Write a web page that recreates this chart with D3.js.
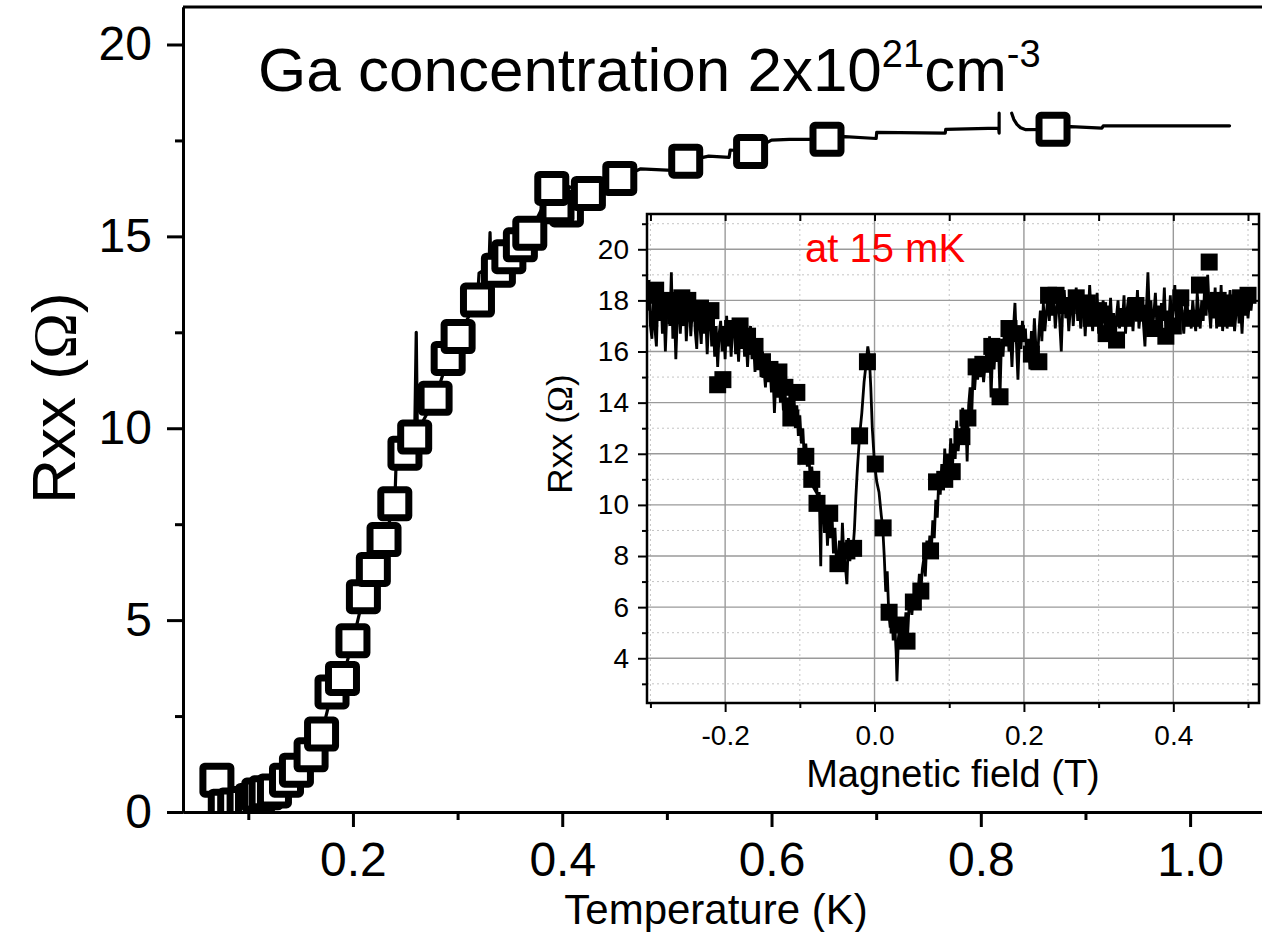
<!DOCTYPE html>
<html>
<head>
<meta charset="utf-8">
<script src="https://cdn.jsdelivr.net/npm/d3@7"></script>
<style>
  body { margin: 0; background: #fff; }
  text { font-family: "Liberation Sans", Arial, sans-serif; fill: #000; }
</style>
</head>
<body>
<svg id="chart" width="1262" height="932"></svg>
<script>
// ---------- Main panel: Rxx vs temperature ----------
// open-square markers (T in K, Rxx in ohm)
const tempMarkers = [
  [0.070,0.83],[0.078,0.15],[0.087,0.18],[0.096,0.22],[0.104,0.30],[0.110,0.44],
  [0.117,0.50],[0.125,0.55],[0.1365,0.83],[0.146,1.09],[0.160,1.49],[0.170,2.03],
  [0.180,3.13],[0.190,3.48],[0.200,4.46],[0.210,5.61],[0.2195,6.32],[0.2297,7.10],
  [0.240,8.03],[0.2497,9.35],[0.259,9.77],[0.2785,10.78],[0.291,11.82],[0.3005,12.39],
  [0.319,13.34],[0.339,14.12],[0.349,14.47],[0.360,14.78],[0.369,15.08],[0.404,15.69],
  [0.395,15.77],[0.390,16.25],[0.425,16.12],[0.455,16.51],[0.518,16.96],[0.580,17.21],
  [0.653,17.53],[0.869,17.79]
];
// continuous trace (null marks a gap in the record)
const tempTrace = [
  [0.070,0.83],[0.078,0.15],[0.087,0.18],[0.096,0.22],[0.104,0.30],[0.110,0.44],
  [0.117,0.50],[0.125,0.55],[0.1365,0.83],[0.146,1.09],[0.160,1.49],[0.170,2.03],
  [0.180,3.13],[0.190,3.48],[0.200,4.46],[0.210,5.61],[0.2195,6.32],[0.2297,7.10],
  [0.240,8.03],[0.241,8.9],[0.2497,9.35],[0.259,9.77],[0.2605,12.5],[0.2615,9.9],
  [0.2785,10.78],[0.291,11.82],[0.3005,12.39],[0.319,13.34],[0.3205,14.04],[0.330,14.2],
  [0.331,15.1],[0.332,14.1],[0.339,14.12],[0.349,14.47],[0.360,14.78],[0.369,15.08],
  [0.390,16.25],[0.395,15.77],[0.404,15.69],[0.406,16.3],[0.425,16.12],[0.455,16.51],
  [0.475,16.76],[0.505,16.72],[0.518,16.96],[0.540,17.09],[0.5595,17.06],[0.5605,17.25],
  [0.580,17.21],[0.600,17.51],[0.617,17.53],[0.653,17.53],[0.670,17.60],[0.700,17.55],
  [0.7005,17.71],[0.766,17.69],[0.7665,17.79],[0.817,17.82],[0.8175,17.69],[0.8175,18.21],
  [0.823,null],
  [0.8295,18.21],[0.8315,18.05],[0.8345,17.92],[0.838,17.83],[0.843,17.78],[0.869,17.79],
  [0.886,17.86],[0.9157,17.82],[0.917,17.88],[1.0377,17.88]
];
const tempMajorTicks = [0.2, 0.4, 0.6, 0.8, 1.0];
const tempMinorTicks = [0.1, 0.3, 0.5, 0.7, 0.9];
const rMajorTicks = [0, 5, 10, 15, 20];
const rMinorTicks = [2.5, 7.5, 12.5, 17.5];

// ---------- Inset: Rxx vs magnetic field at 15 mK ----------
const fieldTrace = [
  [-0.304,17.6],[-0.302,18.8],[-0.300,17.0],[-0.298,16.5],[-0.296,18.4],[-0.294,16.9],
  [-0.292,16.2],[-0.290,18.2],[-0.288,17.2],[-0.286,18.5],[-0.284,16.7],[-0.282,17.9],
  [-0.280,16.0],[-0.278,17.6],[-0.276,18.2],[-0.274,17.0],[-0.272,19.1],[-0.270,16.5],
  [-0.268,17.7],[-0.266,15.7],[-0.264,17.4],[-0.262,18.2],[-0.260,16.7],[-0.258,17.9],
  [-0.256,17.0],[-0.254,18.3],[-0.252,16.4],[-0.250,17.5],[-0.248,18.1],[-0.246,16.6],
  [-0.244,17.6],[-0.242,18.2],[-0.240,16.8],[-0.238,16.1],[-0.236,17.8],[-0.234,17.1],
  [-0.232,16.3],[-0.230,18.0],[-0.228,16.7],[-0.226,17.4],[-0.224,15.9],[-0.222,17.2],
  [-0.220,17.8],[-0.218,16.2],[-0.216,17.3],[-0.214,15.8],[-0.212,17.0],[-0.210,15.4],
  [-0.208,16.7],[-0.206,17.2],[-0.204,16.0],[-0.202,17.0],[-0.200,15.7],[-0.198,17.4],
  [-0.196,16.2],[-0.194,17.1],[-0.192,15.8],[-0.190,16.9],[-0.188,17.3],[-0.186,15.9],
  [-0.184,16.8],[-0.182,15.6],[-0.180,17.0],[-0.178,16.1],[-0.176,17.2],[-0.174,15.8],
  [-0.172,16.6],[-0.170,15.4],[-0.168,16.5],[-0.166,17.0],[-0.164,15.7],[-0.162,16.4],
  [-0.160,15.2],[-0.158,16.2],[-0.156,15.5],[-0.154,16.5],[-0.152,15.0],[-0.150,16.0],
  [-0.148,15.3],[-0.146,14.6],[-0.144,15.7],[-0.142,14.8],[-0.140,15.5],[-0.138,14.4],
  [-0.136,15.2],[-0.134,13.6],[-0.132,15.0],[-0.130,14.2],[-0.128,15.1],[-0.126,14.0],
  [-0.124,14.8],[-0.122,13.7],[-0.120,14.6],[-0.118,13.4],[-0.116,14.2],[-0.114,13.1],
  [-0.112,14.1],[-0.110,13.3],[-0.108,14.4],[-0.106,13.0],[-0.104,13.9],[-0.102,12.7],
  [-0.100,13.5],[-0.098,12.4],[-0.096,13.0],[-0.094,11.8],[-0.092,12.4],[-0.090,11.5],
  [-0.088,12.0],[-0.086,11.0],[-0.084,11.5],[-0.082,10.7],[-0.080,10.6],[-0.078,11.1],
  [-0.076,9.9],[-0.074,10.5],[-0.072,7.6],[-0.071,10.0],[-0.069,10.3],[-0.067,8.9],
  [-0.065,9.9],[-0.063,8.4],[-0.061,9.6],[-0.059,8.7],[-0.057,9.7],[-0.055,8.1],
  [-0.053,9.1],[-0.051,7.8],[-0.049,7.7],[-0.047,8.6],[-0.045,7.4],[-0.043,9.3],
  [-0.041,8.0],[-0.039,7.6],[-0.037,6.9],[-0.035,8.7],[-0.033,7.8],[-0.031,8.5],
  [-0.029,8.2],[-0.027,9.0],[-0.025,10.3],[-0.023,11.4],[-0.020,12.7],[-0.017,13.6],
  [-0.014,14.8],[-0.011,15.6],[-0.009,16.2],[-0.007,15.8],[-0.005,14.6],[-0.003,13.0],
  [0.000,11.6],[0.003,10.9],[0.006,10.5],[0.009,9.6],[0.011,9.1],[0.013,8.0],
  [0.015,6.6],[0.017,7.4],[0.019,5.8],[0.021,5.2],[0.023,6.0],[0.025,4.7],
  [0.027,5.4],[0.029,4.2],[0.030,3.1],[0.032,4.8],[0.034,5.3],[0.036,4.5],
  [0.038,5.6],[0.040,4.9],[0.042,5.8],[0.044,4.7],[0.046,5.9],[0.048,6.3],
  [0.050,5.7],[0.052,6.4],[0.054,6.0],[0.056,6.8],[0.058,6.4],[0.060,7.3],
  [0.062,6.6],[0.064,7.5],[0.066,7.9],[0.068,7.2],[0.070,8.6],[0.072,7.9],
  [0.074,8.8],[0.076,8.2],[0.078,9.4],[0.080,8.7],[0.082,10.2],[0.084,9.5],
  [0.086,11.0],[0.088,10.4],[0.090,11.6],[0.092,10.7],[0.094,12.2],[0.096,11.1],
  [0.098,12.0],[0.100,11.4],[0.102,12.6],[0.104,11.3],[0.106,12.4],[0.108,11.8],
  [0.110,13.3],[0.112,12.1],[0.114,12.9],[0.116,12.5],[0.118,13.8],[0.120,12.8],
  [0.122,13.5],[0.124,11.7],[0.126,13.9],[0.128,14.6],[0.130,13.4],[0.132,15.2],
  [0.134,14.5],[0.136,15.4],[0.138,14.9],[0.140,15.6],[0.142,15.0],[0.144,15.7],
  [0.146,14.8],[0.148,15.5],[0.150,15.9],[0.152,15.2],[0.154,16.6],[0.156,14.2],
  [0.158,16.0],[0.160,15.3],[0.162,16.3],[0.164,15.6],[0.166,16.1],[0.168,14.3],
  [0.170,16.5],[0.172,15.8],[0.174,16.9],[0.176,16.2],[0.178,17.0],[0.180,16.0],
  [0.182,16.7],[0.184,15.4],[0.186,16.9],[0.188,17.9],[0.190,16.3],[0.192,14.9],
  [0.194,16.6],[0.196,16.1],[0.198,17.2],[0.200,16.4],[0.202,16.9],[0.204,15.7],
  [0.206,16.5],[0.208,15.3],[0.210,16.8],[0.212,15.9],[0.214,17.3],[0.216,16.2],
  [0.218,15.5],[0.220,16.7],[0.222,17.6],[0.224,16.4],[0.226,17.9],[0.228,16.8],
  [0.230,17.5],[0.232,18.1],[0.234,17.2],[0.236,18.3],[0.238,17.4],[0.240,18.0],
  [0.242,16.9],[0.244,17.7],[0.246,18.2],[0.248,17.1],[0.250,16.0],[0.252,17.8],
  [0.254,18.4],[0.256,17.3],[0.258,18.0],[0.260,16.8],[0.262,17.6],[0.264,18.3],
  [0.266,17.0],[0.268,17.9],[0.270,18.5],[0.272,17.2],[0.274,18.1],[0.276,16.9],
  [0.278,17.6],[0.280,18.2],[0.282,16.6],[0.284,17.8],[0.286,17.3],[0.288,18.6],
  [0.290,17.5],[0.292,16.8],[0.294,17.9],[0.296,17.1],[0.298,18.3],[0.300,16.7],
  [0.302,17.7],[0.304,16.9],[0.306,18.0],[0.308,17.2],[0.310,16.5],[0.312,17.8],
  [0.314,17.0],[0.316,18.1],[0.318,16.8],[0.320,17.5],[0.322,16.3],[0.324,17.4],
  [0.326,18.0],[0.328,16.9],[0.330,17.7],[0.332,17.2],[0.334,18.2],[0.336,16.7],
  [0.338,17.6],[0.340,18.1],[0.342,17.0],[0.344,17.8],[0.346,16.8],[0.348,17.9],
  [0.350,17.3],[0.352,18.4],[0.354,16.9],[0.356,17.6],[0.358,18.0],[0.360,17.1],
  [0.362,16.2],[0.364,17.7],[0.366,19.1],[0.368,17.4],[0.370,18.0],[0.372,16.8],
  [0.374,17.5],[0.376,18.3],[0.378,17.0],[0.380,17.8],[0.382,16.6],[0.384,17.9],
  [0.386,17.2],[0.388,18.5],[0.390,16.7],[0.392,17.6],[0.394,17.1],[0.396,18.2],
  [0.398,16.9],[0.400,17.7],[0.402,18.6],[0.404,17.3],[0.406,17.9],[0.408,16.8],
  [0.410,18.1],[0.412,17.4],[0.414,16.7],[0.416,17.8],[0.418,18.4],[0.420,17.0],
  [0.422,17.6],[0.424,16.9],[0.426,18.0],[0.428,17.3],[0.430,16.8],[0.432,18.3],
  [0.434,17.5],[0.436,16.9],[0.438,18.0],[0.440,17.2],[0.442,18.6],[0.444,17.4],
  [0.446,19.0],[0.448,17.7],[0.450,16.9],[0.452,18.1],[0.454,17.3],[0.456,18.5],
  [0.458,16.9],[0.460,17.8],[0.462,17.1],[0.464,18.6],[0.466,16.8],[0.468,17.7],
  [0.470,18.2],[0.472,16.9],[0.474,17.6],[0.476,18.4],[0.478,17.0],[0.480,17.9],
  [0.482,16.8],[0.484,17.5],[0.486,18.3],[0.488,17.1],[0.490,17.8],[0.492,16.7],
  [0.494,18.0],[0.496,17.4],[0.498,18.1],[0.500,17.3],[0.502,18.0],[0.504,17.6],
  [0.506,18.2]
];
// filled-square markers on the field sweep
const fieldMarkers = [
  [-0.300,18.2],[-0.293,18.4],[-0.283,17.6],[-0.275,18.0],[-0.266,17.4],[-0.258,18.1],
  [-0.250,18.0],[-0.241,17.5],[-0.233,17.7],[-0.225,17.3],[-0.219,17.6],[-0.210,14.7],
  [-0.203,14.9],[-0.190,16.9],[-0.180,17.0],[-0.170,16.6],[-0.160,16.2],[-0.150,15.6],
  [-0.140,15.3],[-0.128,15.2],[-0.120,14.6],[-0.112,13.4],[-0.104,14.4],[-0.092,11.9],
  [-0.084,11.0],[-0.077,10.06],[-0.060,9.67],[-0.049,7.7],[-0.037,8.2],[-0.028,8.3],
  [-0.020,12.7],[-0.0095,15.6],[0.001,11.6],[0.0115,9.1],[0.0195,5.8],[0.0315,5.3],
  [0.0435,4.67],[0.052,6.2],[0.062,6.63],[0.075,8.2],[0.083,10.9],[0.094,11.0],
  [0.104,11.3],[0.117,12.67],[0.125,13.4],[0.136,15.4],[0.145,15.5],[0.157,16.2],
  [0.168,14.23],[0.180,16.9],[0.190,16.7],[0.210,15.9],[0.220,15.6],[0.233,18.2],
  [0.243,18.2],[0.258,17.8],[0.270,18.1],[0.285,17.9],[0.290,17.3],[0.300,17.6],
  [0.310,16.7],[0.324,16.45],[0.335,17.3],[0.350,17.8],[0.360,17.5],[0.375,16.9],
  [0.390,16.6],[0.400,17.0],[0.410,18.1],[0.425,17.3],[0.435,18.6],[0.448,19.5],
  [0.460,18.0],[0.470,17.3],[0.480,17.9],[0.490,18.1],[0.500,18.2]
];
const fieldMajorTicks = [-0.2, 0.0, 0.2, 0.4];
const fieldMinorTicks = [-0.3, -0.1, 0.1, 0.3, 0.5];
const insetRMajorTicks = [4, 6, 8, 10, 12, 14, 16, 18, 20];
const insetRMinorTicks = [3, 5, 7, 9, 11, 13, 15, 17, 19, 21];

const svg = d3.select("#chart");
svg.append("rect").attr("width", 1262).attr("height", 932).attr("fill", "#fff");

// tick text with a plain hyphen for negatives
const oneDecimal = d => d3.format(".1f")(d).replace("\u2212", "-");

// ---------- main panel ----------
const x = d3.scaleLinear().domain([0.0376, 1.0687]).range([183, 1262]);
const y = d3.scaleLinear().domain([0, 20.977]).range([812, 7]);

const defs = svg.append("defs");
defs.append("clipPath").attr("id", "mainClip")
  .append("rect").attr("x", 183).attr("y", 7).attr("width", 1262 - 183).attr("height", 812 - 7);

const main = svg.append("g");
const mainLine = d3.line()
  .defined(d => d[1] !== null)
  .x(d => x(d[0])).y(d => y(d[1]));

const plot = main.append("g").attr("clip-path", "url(#mainClip)");
plot.append("path").datum(tempTrace)
  .attr("d", mainLine)
  .attr("fill", "none").attr("stroke", "#000")
  .attr("stroke-width", 3.2).attr("stroke-linejoin", "round").attr("stroke-linecap", "round");

const sq = 28;
plot.selectAll("rect.open").data(tempMarkers).join("rect")
  .attr("class", "open")
  .attr("x", d => x(d[0]) - sq / 2).attr("y", d => y(d[1]) - sq / 2)
  .attr("width", sq).attr("height", sq).attr("rx", 2)
  .attr("fill", "#fff").attr("stroke", "#000").attr("stroke-width", 7);

// axes
function styleAxis(g, width) {
  g.selectAll("path.domain").attr("stroke", "#000").attr("stroke-width", width);
  g.selectAll(".tick line").attr("stroke", "#000").attr("stroke-width", width);
}
const xAxisG = main.append("g").attr("transform", "translate(0,812)")
  .call(d3.axisBottom(x).tickValues(tempMajorTicks).tickSize(15).tickSizeOuter(0)
    .tickPadding(15).tickFormat(oneDecimal));
styleAxis(xAxisG, 3);
xAxisG.selectAll("text").attr("font-size", 48);
const xMinorG = main.append("g").attr("transform", "translate(0,812)")
  .call(d3.axisBottom(x).tickValues(tempMinorTicks).tickSize(8).tickSizeOuter(0).tickFormat(""));
styleAxis(xMinorG, 3);

const yAxisG = main.append("g").attr("transform", "translate(183,0)")
  .call(d3.axisLeft(y).tickValues(rMajorTicks).tickSize(16).tickSizeOuter(0).tickPadding(15));
styleAxis(yAxisG, 3);
yAxisG.selectAll("text").attr("font-size", 48);
const yMinorG = main.append("g").attr("transform", "translate(183,0)")
  .call(d3.axisLeft(y).tickValues(rMinorTicks).tickSize(8).tickSizeOuter(0).tickFormat(""));
styleAxis(yMinorG, 3);

// top frame line
main.append("line").attr("x1", 183).attr("x2", 1262).attr("y1", 7).attr("y2", 7)
  .attr("stroke", "#000").attr("stroke-width", 3);

// titles
main.append("text").attr("x", 716).attr("y", 924).attr("text-anchor", "middle")
  .attr("font-size", 42).text("Temperature (K)");

const yLab = main.append("text").attr("transform", "translate(75,398) rotate(-90)")
  .attr("text-anchor", "middle").attr("font-size", 62);
yLab.append("tspan").text("Rxx (");
yLab.append("tspan").attr("font-family", "'Liberation Serif', 'DejaVu Serif', serif").text("Ω");
yLab.append("tspan").text(")");

const title = main.append("text").attr("x", 258).attr("y", 91).attr("font-size", 62);
title.append("tspan").text("Ga concentration 2x10");
title.append("tspan").attr("font-size", 38).attr("dy", -24).text("21");
title.append("tspan").attr("dy", 24).text("cm");
title.append("tspan").attr("font-size", 38).attr("dy", -24).text("-3");

// ---------- inset ----------
const L = 647, R = 1259, T = 214, B = 703;
const ix = d3.scaleLinear().domain([-0.3046, 0.5147]).range([L, R]);
const iy = d3.scaleLinear().domain([2.25, 21.38]).range([B, T]);

defs.append("clipPath").attr("id", "insetClip")
  .append("rect").attr("x", L).attr("y", T).attr("width", R - L).attr("height", B - T);

const inset = svg.append("g");
inset.append("rect").attr("x", L).attr("y", T).attr("width", R - L).attr("height", B - T)
  .attr("fill", "#fff");

// grid
const grid = inset.append("g");
grid.selectAll("line.vmaj").data(fieldMajorTicks).join("line")
  .attr("class", "vmaj")
  .attr("x1", d => ix(d)).attr("x2", d => ix(d)).attr("y1", T).attr("y2", B)
  .attr("stroke", "#9a9a9a").attr("stroke-width", 1.4);
grid.selectAll("line.vmin").data(fieldMinorTicks).join("line")
  .attr("class", "vmin")
  .attr("x1", d => ix(d)).attr("x2", d => ix(d)).attr("y1", T).attr("y2", B)
  .attr("stroke", "#c4c4c4").attr("stroke-width", 1).attr("stroke-dasharray", "2,3");
grid.selectAll("line.hmaj").data(insetRMajorTicks).join("line")
  .attr("class", "hmaj")
  .attr("x1", L).attr("x2", R).attr("y1", d => iy(d)).attr("y2", d => iy(d))
  .attr("stroke", "#9a9a9a").attr("stroke-width", 1.4);
grid.selectAll("line.hmin").data(insetRMinorTicks).join("line")
  .attr("class", "hmin")
  .attr("x1", L).attr("x2", R).attr("y1", d => iy(d)).attr("y2", d => iy(d))
  .attr("stroke", "#c4c4c4").attr("stroke-width", 1).attr("stroke-dasharray", "2,3");

const iplot = inset.append("g").attr("clip-path", "url(#insetClip)");
iplot.append("path").datum(fieldTrace)
  .attr("d", d3.line().x(d => ix(d[0])).y(d => iy(d[1])))
  .attr("fill", "none").attr("stroke", "#000").attr("stroke-width", 2.8)
  .attr("stroke-linejoin", "miter");
const fs = 17;
iplot.selectAll("rect.filled").data(fieldMarkers).join("rect")
  .attr("class", "filled")
  .attr("x", d => ix(d[0]) - fs / 2).attr("y", d => iy(d[1]) - fs / 2)
  .attr("width", fs).attr("height", fs).attr("fill", "#000");

// frame
inset.append("rect").attr("x", L).attr("y", T).attr("width", R - L).attr("height", B - T)
  .attr("fill", "none").attr("stroke", "#000").attr("stroke-width", 2.5);

// inset axes
const ixAxis = inset.append("g").attr("transform", `translate(0,${B})`)
  .call(d3.axisBottom(ix).tickValues(fieldMajorTicks).tickSize(9).tickSizeOuter(0)
    .tickPadding(13).tickFormat(oneDecimal));
styleAxis(ixAxis, 2);
ixAxis.select("path.domain").remove();
ixAxis.selectAll("text").attr("font-size", 28);
const ixMinor = inset.append("g").attr("transform", `translate(0,${B})`)
  .call(d3.axisBottom(ix).tickValues(fieldMinorTicks).tickSize(5).tickSizeOuter(0).tickFormat(""));
styleAxis(ixMinor, 2);
ixMinor.select("path.domain").remove();

const iyAxis = inset.append("g").attr("transform", `translate(${L},0)`)
  .call(d3.axisLeft(iy).tickValues(insetRMajorTicks).tickSize(9).tickSizeOuter(0).tickPadding(9));
styleAxis(iyAxis, 2);
iyAxis.select("path.domain").remove();
iyAxis.selectAll("text").attr("font-size", 28);
const iyMinor = inset.append("g").attr("transform", `translate(${L},0)`)
  .call(d3.axisLeft(iy).tickValues(insetRMinorTicks).tickSize(5).tickSizeOuter(0).tickFormat(""));
styleAxis(iyMinor, 2);
iyMinor.select("path.domain").remove();

// inward ticks on top and right edges
const itop = inset.append("g").attr("transform", `translate(0,${T})`)
  .call(d3.axisTop(ix).tickValues(fieldMajorTicks.concat(fieldMinorTicks)).tickSize(-7).tickSizeOuter(0).tickFormat(""));
styleAxis(itop, 2);
itop.select("path.domain").remove();
const iright = inset.append("g").attr("transform", `translate(${R},0)`)
  .call(d3.axisRight(iy).tickValues(insetRMajorTicks.concat(insetRMinorTicks)).tickSize(-7).tickSizeOuter(0).tickFormat(""));
styleAxis(iright, 2);
iright.select("path.domain").remove();

// inset labels
inset.append("text").attr("x", 953).attr("y", 787).attr("text-anchor", "middle")
  .attr("font-size", 38).text("Magnetic field (T)");
const iyLab = inset.append("text").attr("transform", "translate(572,434) rotate(-90)")
  .attr("text-anchor", "middle").attr("font-size", 35);
iyLab.append("tspan").text("Rxx (");
iyLab.append("tspan").attr("font-family", "'Liberation Serif', 'DejaVu Serif', serif").text("Ω");
iyLab.append("tspan").text(")");

inset.append("text").attr("x", 805).attr("y", 262).attr("font-size", 40)
  .style("fill", "#ff0000").text("at 15 mK");
</script>
</body>
</html>
